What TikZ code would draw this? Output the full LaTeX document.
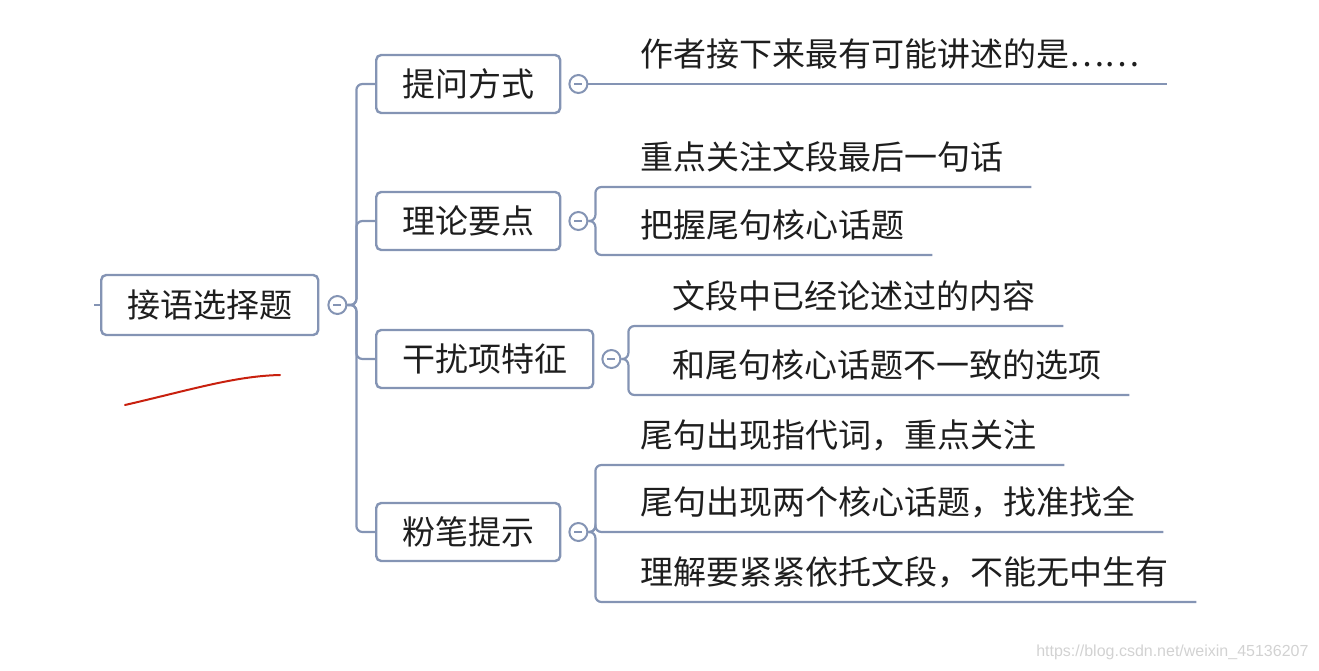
\documentclass[tikz,border=0pt]{standalone}
\usepackage{fontspec}
\setmainfont{Noto Sans CJK SC}
\newfontfamily\latinfont{Liberation Sans}
\usepackage{tikz}
\usetikzlibrary{positioning}
\definecolor{frame}{HTML}{8494B4}
\definecolor{ink}{HTML}{1E1E1E}
\definecolor{pen}{HTML}{C8200E}

\begin{document}
\begin{tikzpicture}[
  x=1pt,y=-1pt,
  box/.style={draw=frame,line width=2.4pt,rounded corners=5pt,fill=white,inner xsep=26pt,minimum height=58pt,text=ink,font=\fontsize{33}{38}\selectfont,anchor=west},
  toggle/.style={circle,draw=frame,line width=2pt,fill=white,minimum size=18pt,inner sep=0pt,
    path picture={\draw[frame,line width=1.6pt] ([xshift=-4pt]path picture bounding box.center) -- ([xshift=4pt]path picture bounding box.center);}},
  leaf/.style={anchor=south west,inner xsep=0pt,inner ysep=13pt,text height=29pt,text depth=4pt,text=ink,font=\fontsize{33}{38}\selectfont},
  link/.style={draw=frame,line width=2.2pt,rounded corners=6pt}
]
\useasboundingbox (0,0) rectangle (1319,671);

% root and branches
\node[box,minimum height=60pt] (root) at (100,305) {接语选择题};
\node[toggle,right=8pt of root] (c0) {};
\node[box] (b1) at (375,84) {提问方式};
\node[box] (b2) at (375,221) {理论要点};
\node[box] (b3) at (375,359) {干扰项特征};
\node[box] (b4) at (375,532) {粉笔提示};
\node[toggle,right=7pt of b1] (c1) {};
\node[toggle,right=7pt of b2] (c2) {};
\node[toggle,right=7pt of b3] (c3) {};
\node[toggle,right=7pt of b4] (c4) {};

% leaves
\node[leaf] (l11) at (640,84) {作者接下来最有可能讲述的是……};
\node[leaf] (l21) at (640,187) {重点关注文段最后一句话};
\node[leaf] (l22) at (640,255) {把握尾句核心话题};
\node[leaf] (l31) at (672,326) {文段中已经论述过的内容};
\node[leaf] (l32) at (672,395) {和尾句核心话题不一致的选项};
\node[leaf] (l41) at (640,465) {尾句出现指代词，重点关注};
\node[leaf] (l42) at (640,532) {尾句出现两个核心话题，找准找全};
\node[leaf] (l43) at (640,602) {理解要紧紧依托文段，不能无中生有};

% connectors
\draw[link] (root.west) -- ++(-6,0);
\foreach \b in {b1,b2,b3,b4}
  \draw[link] (c0.east) -- ++(9,0) |- (\b.west);
\draw[link] (c1.east) -- ([xshift=28pt]l11.south east);
\foreach \l in {l21,l22}
  \draw[link] (c2.east) -- ++(7,0) |- ([xshift=28pt]\l.south east);
\foreach \l in {l31,l32}
  \draw[link] (c3.east) -- ++(7,0) |- ([xshift=28pt]\l.south east);
\foreach \l in {l41,l42,l43}
  \draw[link] (c4.east) -- ++(7,0) |- ([xshift=28pt]\l.south east);

% red pen mark
\draw[pen,line width=2pt,line cap=round] (125,405) .. controls (190,390) and (235,376) .. (280,375);

% watermark
\node[anchor=east,text=gray!35,font=\latinfont\fontsize{16}{18}\selectfont] (mark) at (1312,652) {https://blog.csdn.net/weixin\_45136207};
\end{tikzpicture}
\end{document}
